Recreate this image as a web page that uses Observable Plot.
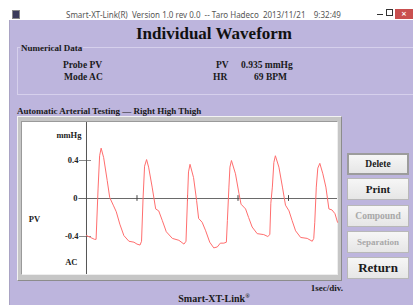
<!DOCTYPE html>
<html><head><meta charset="utf-8">
<script src="https://cdn.jsdelivr.net/npm/d3@7"></script>
<script src="https://cdn.jsdelivr.net/npm/@observablehq/plot@0.6"></script>
<style>
html,body{margin:0;padding:0;background:#fff;}
#app{position:relative;width:413px;height:305px;overflow:hidden;background:#fff;font-family:"Liberation Serif","Times New Roman",serif;font-weight:bold;color:#1a1a1a;}
.abs{position:absolute;white-space:pre;line-height:1;}
.btn{position:absolute;left:347px;width:62px;background:linear-gradient(#f6f6f6,#e6e6e6);border:1px solid #b8b8b8;box-sizing:border-box;display:flex;align-items:center;justify-content:center;font-weight:bold;}
#chart svg{display:block;}
</style></head>
<body>
<div id="app">
  <!-- title bar -->
  <div class="abs" style="left:12px;top:10px;width:6px;height:7px;background:#3a3a5a;border:1px solid #888;"></div>
  <div class="abs" id="wtitle" style="left:66px;top:11px;font-family:'Noto Sans',sans-serif;font-weight:normal;font-size:8px;color:#555;"></div>
  <div class="abs" style="left:377px;top:14px;width:6px;height:1px;background:#333;"></div>
  <div class="abs" style="left:386px;top:9px;width:5px;height:5px;border:1px solid #333;"></div>
  <div class="abs" style="left:395px;top:9px;width:18px;height:10px;background:#c94f4f;color:#fff;font-family:'DejaVu Sans',sans-serif;font-size:7px;text-align:center;line-height:10px;">×</div>
  <!-- client area -->
  <div class="abs" style="left:9px;top:20px;width:404px;height:285px;background:#bdb5dd;border-left:1px solid #a9a3c4;"></div>
  <div class="abs" id="title" style="left:0;width:428px;text-align:center;top:25px;font-size:17px;color:#111;"></div>
  <!-- group box -->
  <div class="abs" style="left:17px;top:47px;width:420px;height:46px;border:1px solid #d6d0ec;border-right:none;"></div>
  <div class="abs" id="grp" style="left:20px;top:44px;font-size:9px;background:#bdb5dd;padding:0 1px;"></div>
  <div class="abs" id="probe" style="left:63px;top:61px;font-size:9.5px;"></div>
  <div class="abs" id="mode" style="left:64px;top:73px;font-size:9.5px;"></div>
  <div class="abs" id="pvlab" style="left:216px;top:61px;font-size:9.5px;"></div>
  <div class="abs" id="pvval" style="left:241px;top:61px;font-size:9.5px;"></div>
  <div class="abs" id="hrlab" style="left:213px;top:73px;font-size:9.5px;"></div>
  <div class="abs" id="hrval" style="left:254px;top:73px;font-size:9.5px;"></div>
  <div class="abs" id="test" style="left:17px;top:107px;font-size:9px;"></div>
  <!-- chart frame -->
  <div class="abs" style="left:17px;top:116px;width:325px;height:165px;box-sizing:border-box;background:#c6c6c6;border:1px solid;border-color:#f2f2f2 #8c8c8c #8c8c8c #f2f2f2;"></div>
  <div class="abs" id="chart" style="left:21px;top:121px;width:317px;height:154px;box-sizing:border-box;background:#fff;border:1px solid;border-color:#9a9a9a #eeeeee #eeeeee #9a9a9a;"></div>
  <!-- buttons -->
  <div class="btn" style="top:153px;height:22px;border:2px solid #9c9c9c;font-size:9.5px;">Delete</div>
  <div class="btn" style="top:178px;height:22px;font-size:11px;">Print</div>
  <div class="btn" style="top:205px;height:22px;font-size:9.5px;color:#a8a8a8;">Compound</div>
  <div class="btn" style="top:231px;height:22px;font-size:9px;color:#a8a8a8;">Separation</div>
  <div class="btn" style="top:257px;height:22px;font-size:13px;">Return</div>
  <div class="abs" id="scale" style="left:200px;width:143px;text-align:right;top:284px;font-size:9px;"></div>
  <div class="abs" id="brand" style="left:0;width:428px;text-align:center;top:293px;font-size:10px;"></div>
</div>
<script>
// ---- texts ----
const windowTitle = "Smart-XT-Link(R)  Version 1.0 rev 0.0  -- Taro Hadeco  2013/11/21    9:32:49";
const pageTitle = "Individual Waveform";
const groupTitle = "Numerical Data";
const probeText = "Probe PV";
const modeText = "Mode AC";
const pvLabel = "PV";
const pvValue = "0.935 mmHg";
const hrLabel = "HR";
const hrValue = "69 BPM";
const testTitle = "Automatic Arterial Testing — Right High Thigh";
const scaleText = "1sec/div.";
const brandText = "Smart-XT-Link";

// ---- chart data ----
const timeSec = [0,0.08,0.16,0.19,0.23,0.26,0.29,0.34,0.41,0.46,0.53,0.59,0.66,0.74,0.84,0.94,1.00,1.06,1.09,1.12,1.15,1.19,1.23,1.30,1.37,1.43,1.50,1.58,1.70,1.83,1.93,1.97,2.00,2.02,2.05,2.12,2.18,2.22,2.29,2.36,2.44,2.52,2.59,2.65,2.72,2.77,2.79,2.82,2.84,2.87,2.95,3.02,3.06,3.15,3.21,3.28,3.38,3.51,3.59,3.63,3.65,3.68,3.71,3.74,3.81,3.88,3.94,4.01,4.07,4.14,4.24,4.37,4.47,4.50,4.52,4.55,4.58,4.62,4.68,4.74,4.80,4.86,4.92,4.97];
const pvValues = [-0.39,-0.41,-0.43,-0.43,0.11,0.45,0.53,0.43,0.19,0.01,-0.07,-0.14,-0.27,-0.39,-0.45,-0.46,-0.48,-0.49,-0.45,0.0,0.34,0.41,0.33,0.12,-0.11,-0.13,-0.23,-0.35,-0.42,-0.44,-0.48,-0.45,0.0,0.28,0.36,0.22,-0.02,-0.21,-0.25,-0.34,-0.46,-0.52,-0.51,-0.47,-0.47,-0.46,-0.23,0.12,0.33,0.40,0.26,0.05,-0.06,-0.11,-0.20,-0.30,-0.37,-0.38,-0.40,-0.38,-0.05,0.12,0.38,0.45,0.33,0.12,-0.07,-0.13,-0.23,-0.34,-0.41,-0.42,-0.45,-0.42,-0.25,0.12,0.32,0.37,0.26,0.12,-0.11,-0.12,-0.16,-0.25];
const yTicks = [-0.4, 0, 0.4];
const yTickLabels = ["-0.4", "0", "0.4"];
const xTicks = [1, 2, 3, 4];
const unitLabel = "mmHg";
const probeLabel = "PV";
const modeLabel = "AC";

const set = (id, t) => document.getElementById(id).textContent = t;
set("wtitle", windowTitle); set("title", pageTitle); set("grp", groupTitle);
set("probe", probeText); set("mode", modeText); set("pvlab", pvLabel); set("pvval", pvValue);
set("hrlab", hrLabel); set("hrval", hrValue); set("test", testTitle); set("scale", scaleText);
document.getElementById("brand").innerHTML = "";
document.getElementById("brand").append(brandText);
const sup = document.createElement("sup"); sup.textContent = "®"; sup.style.fontSize = "6px"; sup.style.verticalAlign = "4px";
document.getElementById("brand").append(sup);

const wave = timeSec.map((t, i) => ({t, v: pvValues[i]}));
const ticks = yTicks.map((v, i) => ({v, label: yTickLabels[i]}));
const font = {fontFamily: "Liberation Serif, serif", fontWeight: "bold", fontSize: 8.5, fill: "#222"};

const chart = Plot.plot({
  width: 315, height: 152,
  margin: 0,
  style: {background: "transparent", overflow: "visible"},
  x: {domain: [-1.267, 4.97], axis: null},
  y: {domain: [-0.8, 0.8], axis: null},
  marks: [
    Plot.ruleY(ticks.filter(d => d.v !== 0), {y: "v", x1: -0.139, x2: 0.099, stroke: "#8a8a8a", strokeWidth: 1}),
    Plot.ruleY([0], {x1: -0.15, x2: 4.97, stroke: "#6a6a6a", strokeWidth: 1}),
    Plot.ruleX(xTicks, {x: d => d, y1: -0.03, y2: 0.03, stroke: "#444", strokeWidth: 1}),
    Plot.ruleX([0], {stroke: "#555", strokeWidth: 1}),
    Plot.text(ticks, {x: d => d.v === 0 ? -0.18 : -0.16, y: "v", text: "label", textAnchor: "end", ...font}),
    Plot.text([unitLabel], {x: -0.1, y: 0.663, text: d => d, textAnchor: "end", ...font}),
    Plot.text([probeLabel], {x: -1.03, y: -0.22, text: d => d, ...font}),
    Plot.text([modeLabel], {x: -0.3, y: -0.674, text: d => d, ...font}),
    Plot.line(wave, {x: "t", y: "v", stroke: "#ff6e6e", strokeWidth: 1})
  ]
});
document.getElementById("chart").append(chart);
</script>
</body></html>
